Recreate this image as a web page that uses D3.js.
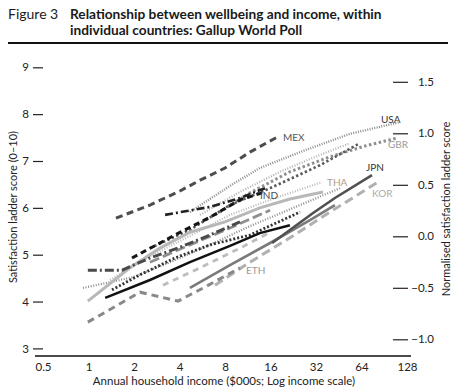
<!DOCTYPE html>
<html><head><meta charset="utf-8">
<script src="https://cdn.jsdelivr.net/npm/d3@7"></script>
<style>
body{margin:0;background:#fff;}
svg{display:block;font-family:Lato,"Noto Sans",sans-serif;}
</style></head>
<body><svg id="c" width="456" height="390"></svg>
<script>
// ---- data (income in $000s, satisfaction ladder score 0-10) ----
const xTicks = [0.5, 1, 2, 4, 8, 16, 32, 64, 128];
const yTicksLeft = [3, 4, 5, 6, 7, 8, 9];
const yTicksRight = [-1.0, -0.5, 0.0, 0.5, 1.0, 1.5];

const MEX_income = [1.52, 2.55, 4.03, 5.47, 8.0, 11.7, 17.7];
const MEX_score  = [5.78, 6.06, 6.36, 6.59, 6.85, 7.19, 7.51];
const USA_income = [4.69, 8.63, 13.6, 25.1, 53.7, 115];
const USA_score  = [5.91, 6.47, 6.85, 7.19, 7.58, 7.83];
const GBR_income = [6.87, 11.7, 21.5, 39.6, 67.5, 110];
const GBR_score  = [5.85, 6.32, 6.77, 7.09, 7.32, 7.49];
const THA_income = [0.99, 1.88, 2.97, 4.69, 8.0, 13.6, 21.5, 35.6];
const THA_score  = [4.01, 4.72, 5.14, 5.48, 5.70, 6.00, 6.19, 6.34];
const JPN_income = [16.4, 30.6, 42.7, 75.1];
const JPN_score  = [5.25, 5.89, 6.21, 6.70];
const KOR_income = [6.87, 11.7, 21.5, 39.6, 82.3];
const KOR_score  = [4.35, 4.84, 5.36, 5.91, 6.55];
const ETH_income = [0.99, 2.19, 3.91, 5.90, 10.05];
const ETH_score  = [3.56, 4.20, 4.01, 4.31, 4.72];
const IND_income = [1.94, 3.73, 6.37, 10.05, 14.06];
const IND_score  = [4.93, 5.42, 5.80, 6.17, 6.32];
const S1_income = [2.55, 4.69, 8.63, 15.9, 34.0, 62.5];
const S1_score  = [5.14, 5.53, 6.06, 6.42, 6.91, 7.38];
const S2_income = [1.39, 2.55, 4.69, 8.63, 15.9, 35.1];
const S2_score  = [4.46, 4.97, 5.40, 5.85, 6.17, 6.55];
const S3_income = [4.69, 8.63, 15.9, 29.2, 42.7];
const S3_score  = [4.29, 4.78, 5.25, 5.74, 6.06];
const S4_income = [3.11, 5.47, 10.05, 15.9];
const S4_score  = [4.35, 4.72, 5.14, 5.48];
const S5_income = [2.55, 4.69, 8.63, 15.9];
const S5_score  = [4.84, 5.21, 5.57, 5.95];
const S6_income = [1.29, 2.55, 4.69, 8.63, 13.6, 21.5];
const S6_score  = [4.08, 4.46, 4.84, 5.19, 5.46, 5.63];
const S7_income = [1.43, 2.19, 3.73, 6.37, 11.7, 25.1];
const S7_score  = [4.25, 4.57, 4.93, 5.21, 5.42, 5.91];
const S8_income = [0.92, 1.97, 3.46, 6.37, 11.7, 25.1, 46.1];
const S8_score  = [4.29, 4.52, 4.84, 5.21, 5.61, 6.06, 6.42];
const S9_income = [0.99, 1.67, 2.55, 4.03, 6.37, 10.05];
const S9_score  = [4.67, 4.67, 4.93, 5.16, 5.42, 5.70];
const S10_income = [3.21, 6.37, 10.05, 14.71];
const S10_score  = [5.85, 6.02, 6.21, 6.42];
const S11_income = [5.47, 10.05, 18.5, 34.0, 53.7];
const S11_score  = [5.85, 6.34, 6.77, 7.13, 7.38];

const labelNames = ["MEX", "USA", "GBR", "JPN", "THA", "KOR", "IND", "ETH"];

// ---- styles ----
const series = [
  {inc: S8_income, sc: S8_score, color: "#8a8a8a", w: 2.2, dash: "1,1.6"},
  {inc: S11_income, sc: S11_score, color: "#b0b0b0", w: 2.2, dash: "1,1.6"},
  {inc: S2_income, sc: S2_score, color: "#b8b8b8", w: 2.2, dash: "1,1.6"},
  {inc: USA_income, sc: USA_score, color: "#8c8c8c", w: 2.4, dash: "1,1.4"},
  {inc: GBR_income, sc: GBR_score, color: "#8e8e8e", w: 3, dash: "2.5,2.5"},
  {inc: S1_income, sc: S1_score, color: "#5a5a5a", w: 2.6, dash: "2.4,2.4"},
  {inc: KOR_income, sc: KOR_score, color: "#b0b0b0", w: 3, dash: "9,5"},
  {inc: S4_income, sc: S4_score, color: "#bdbdbd", w: 2.8, dash: "6,5"},
  {inc: S5_income, sc: S5_score, color: "#8f8f8f", w: 2.8, dash: "10,4"},
  {inc: ETH_income, sc: ETH_score, color: "#888888", w: 3, dash: "7,5"},
  {inc: S3_income, sc: S3_score, color: "#7a7a7a", w: 2.6, dash: null},
  {inc: THA_income, sc: THA_score, color: "#b8b8b8", w: 3, dash: null},
  {inc: S9_income, sc: S9_score, color: "#4a4a4a", w: 3, dash: "9,3,2,3"},
  {inc: S7_income, sc: S7_score, color: "#333333", w: 2.8, dash: "2,2"},
  {inc: S6_income, sc: S6_score, color: "#111111", w: 2.5, dash: null},
  {inc: JPN_income, sc: JPN_score, color: "#505050", w: 2.6, dash: null},
  {inc: IND_income, sc: IND_score, color: "#151515", w: 3, dash: "6,4"},
  {inc: S10_income, sc: S10_score, color: "#222222", w: 2.6, dash: "8,3,2,3"},
  {inc: MEX_income, sc: MEX_score, color: "#4d4d4d", w: 3, dash: "7,4.5"}
];
const labelColors = {MEX:"#555", USA:"#333", GBR:"#9a9a9a", JPN:"#333", THA:"#b09c86", KOR:"#aaaaaa", IND:"#4a4a55", ETH:"#999"};
const labelPos = {MEX:[283,141], USA:[381,123], GBR:[388,148], JPN:[366,171], THA:[327,186], KOR:[372,197], IND:[260,199], ETH:[246,274]};

const svg = d3.select("#c");
const x = d3.scaleLog().base(2).domain([0.5, 128]).range([43, 407]);
const yL = d3.scaleLinear().domain([3, 9]).range([348.4, 67.3]);
const yR = d3.scaleLinear().domain([-1, 1.5]).range([339.3, 81.8]);

// title
const t = svg.append("g").attr("fill", "#1a1a1a").style("font-size", "13.7px");
t.append("text").attr("x", 8).attr("y", 19).style("font-size", "14px").text("Figure 3");
t.append("text").attr("x", 70).attr("y", 19).attr("font-weight", "bold").text("Relationship between wellbeing and income, within");
t.append("text").attr("x", 70).attr("y", 35).attr("font-weight", "bold").text("individual countries: Gallup World Poll");
svg.append("line").attr("x1", 8).attr("x2", 448).attr("y1", 43).attr("y2", 43).attr("stroke", "#111").attr("stroke-width", 2.2);

// lines
const line = d3.line().x(d => x(d[0])).y(d => yL(d[1]));
series.forEach(s => {
  svg.append("path")
    .datum(s.inc.map((v, i) => [v, s.sc[i]]))
    .attr("d", line).attr("fill", "none")
    .attr("stroke", s.color).attr("stroke-width", s.w)
    .attr("stroke-dasharray", s.dash);
});

// left axis
const gl = svg.append("g").attr("transform", "translate(43,0)")
  .call(d3.axisLeft(yL).tickValues(yTicksLeft).tickSize(10).tickPadding(4).tickFormat(d3.format("d")));
gl.select(".domain").remove();
gl.selectAll("line").attr("stroke", "#222").attr("stroke-width", 1.2);
gl.selectAll("text").style("font-size", "11.5px").attr("fill", "#222").style("font-family", "Lato,sans-serif");

// right axis
const gr = svg.append("g").attr("transform", "translate(393,0)")
  .call(d3.axisRight(yR).tickValues(yTicksRight).tickSize(15).tickFormat(d3.format(".1f")));
gr.select(".domain").remove();
gr.selectAll("line").attr("stroke", "#222").attr("stroke-width", 1.2);
gr.selectAll("text").attr("text-anchor", "end").attr("x", 41).style("font-size", "11.5px").attr("fill", "#222").style("font-family", "Lato,sans-serif");

// bottom axis
const gb = svg.append("g").attr("transform", "translate(0,356)")
  .call(d3.axisBottom(x).tickValues(xTicks).tickSize(0).tickPadding(7).tickFormat(d => d));
gb.select(".domain").remove();
gb.selectAll("text").style("font-size", "11.5px").attr("fill", "#222").style("font-family", "Lato,sans-serif");
svg.append("line").attr("x1", x.range()[0] - 8).attr("x2", x.range()[1] + 4)
  .attr("y1", 356).attr("y2", 356).attr("stroke", "#111").attr("stroke-width", 1.3);

// axis titles
svg.append("text").attr("x", 224).attr("y", 385).attr("text-anchor", "middle")
  .style("font-size", "11.5px").attr("fill", "#222").text("Annual household income ($000s; Log income scale)");
svg.append("text").attr("transform", "translate(17,207) rotate(-90)").attr("text-anchor", "middle")
  .style("font-size", "11px").attr("fill", "#222").text("Satisfaction ladder score (0–10)");
svg.append("text").attr("transform", "translate(450,209) rotate(-90)").attr("text-anchor", "middle")
  .style("font-size", "11px").attr("fill", "#222").text("Normalised satisfaction ladder score");

// country labels
labelNames.forEach(n => {
  svg.append("text").attr("x", labelPos[n][0]).attr("y", labelPos[n][1])
    .style("font-size", "10px").attr("fill", labelColors[n]).text(n);
});
</script></body></html>
